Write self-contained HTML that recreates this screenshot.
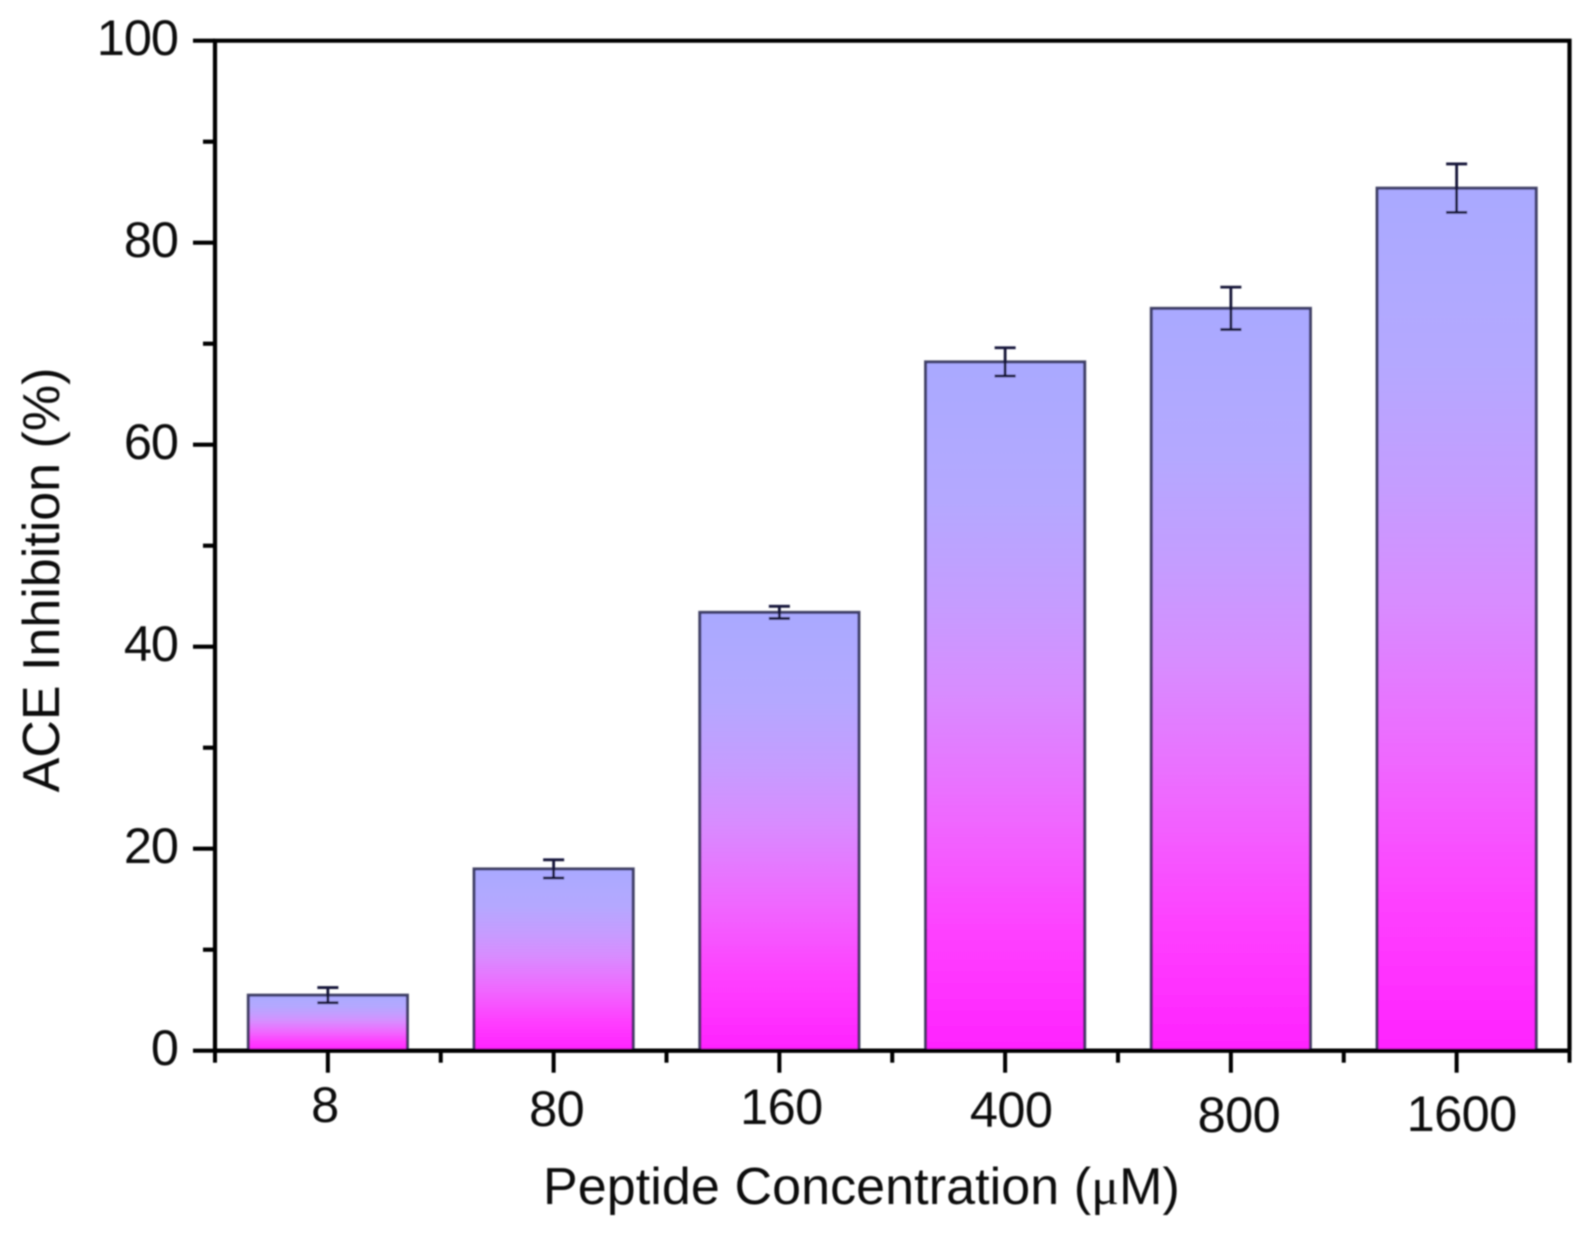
<!DOCTYPE html>
<html lang="en">
<head>
<meta charset="utf-8">
<title>ACE Inhibition Bar Chart</title>
<style>
html,body{margin:0;padding:0;background:#fff;}
svg{display:block;}
text{font-family:"Liberation Sans",sans-serif;fill:#111;}
</style>
</head>
<body>
<svg id="chart" width="1586" height="1234" viewBox="0 0 1586 1234" xmlns="http://www.w3.org/2000/svg">
<defs>
<linearGradient id="barFill" x1="0" y1="0" x2="0" y2="1">
<stop offset="0" stop-color="#a9a9ff"/>
<stop offset="0.2" stop-color="#b4a8ff"/>
<stop offset="0.35" stop-color="#c59cff"/>
<stop offset="0.48" stop-color="#d88cff"/>
<stop offset="0.67" stop-color="#f066ff"/>
<stop offset="0.83" stop-color="#fe40ff"/>
<stop offset="1" stop-color="#ff22ff"/>
</linearGradient>
<filter id="soft" x="-5%" y="-5%" width="110%" height="110%"><feGaussianBlur stdDeviation="0.75"/></filter>
</defs>
<rect x="0" y="0" width="1586" height="1234" fill="#ffffff"/>
<g id="plot" filter="url(#soft)"></g>
</svg>
<script>
const categories = ["8", "80", "160", "400", "800", "1600"];
const inhibition = [5.5, 18.0, 43.4, 68.2, 73.5, 85.4];
const errors = [0.75, 0.9, 0.6, 1.4, 2.1, 2.4];
const yTickLabels = [0, 20, 40, 60, 80, 100];
const yMinorTicks = [10, 30, 50, 70, 90];

const SVG_NS = "http://www.w3.org/2000/svg";
const plot = document.getElementById("plot");
const left = 215, right = 1569.5, top_ = 40.7, bottom = 1050.7;
const yMax = 100;
const band = (right - left) / categories.length;
const BAR_RATIO = 0.705;
const CAP = 10.5;
const FONT = 52;
const TICK_FONT = 50.5;
const INK = "#000000";
// hand-set vertical drift of the category labels in the source figure
const labelDrift = i => [-3, 1, -1, 2, 7, 6][i];
const labelShift = i => [-3, 3, 2, 6, 8, 5][i];

function xCenter(i) { return left + band * (i + 0.5); }
function y(v) { return bottom - (v / yMax) * (bottom - top_); }
function make(tag, attrs, parent) {
  const n = document.createElementNS(SVG_NS, tag);
  for (const k in attrs) n.setAttribute(k, attrs[k]);
  parent.appendChild(n);
  return n;
}
function seg(x1, y1, x2, y2, w, color, parent) {
  return make("line", { x1, y1, x2, y2, "stroke-width": w, stroke: color }, parent);
}

// bars and error bars
categories.forEach((cat, i) => {
  const w = band * BAR_RATIO;
  const bar = make("rect", {
    x: xCenter(i) - w / 2, y: y(inhibition[i]), width: w, height: bottom - y(inhibition[i]),
    fill: "url(#barFill)", stroke: "#26264e", "stroke-opacity": "0.85", "stroke-width": 3
  }, plot);
  
  

  const g = make("g", {}, plot);
  
  
  const hi = y(inhibition[i] + errors[i]), lo = y(inhibition[i] - errors[i]);
  seg(xCenter(i), hi, xCenter(i), lo, 2.8, "#16163a", g);
  seg(xCenter(i) - CAP, hi, xCenter(i) + CAP, hi, 2.8, "#16163a", g);
  seg(xCenter(i) - CAP, lo, xCenter(i) + CAP, lo, 2.8, "#16163a", g);
});

// frame
const frame = make("path", {
  d: `M${left} ${bottom}V${top_}H${right}V${bottom}`, fill: "none", stroke: INK, "stroke-width": 4.2
}, plot);


const xAxis = seg(left, bottom, right, bottom, 4.4, INK, plot);



// y axis
yTickLabels.forEach(v => {
  const t = seg(left - 22, y(v), left, y(v), 4.2, INK, plot);
  
  
  const l = make("text", {
    x: 178, y: y(v) + 14.5, "text-anchor": "end", "font-size": TICK_FONT, "letter-spacing": "-1"
  }, plot);
  l.textContent = v;
  
  
});
yMinorTicks.forEach(v => {
  const t = seg(left - 12, y(v), left, y(v), 4.2, INK, plot);
  
  
});

// x axis
categories.forEach((cat, i) => {
  const t = seg(xCenter(i), bottom, xCenter(i), bottom + 22, 4, INK, plot);
  
  
  const l = make("text", {
    x: xCenter(i) + labelShift(i), y: 1125 + labelDrift(i), "text-anchor": "middle",
    "font-size": TICK_FONT, "letter-spacing": "-0.6"
  }, plot);
  l.textContent = cat;
  
  
});
for (let i = 0; i <= categories.length; i++) {
  const x = left + band * i;
  const t = seg(x, bottom, x, bottom + 12, 4, INK, plot);
  
  
}

// titles
const xTitle = make("text", { x: 543, y: 1204, "font-size": FONT, "letter-spacing": "0.08" }, plot);


xTitle.appendChild(document.createTextNode("Peptide Concentration ("));
const mu = make("tspan", { style: 'font-family:"Liberation Serif",serif' }, xTitle);
mu.textContent = "\u03bc";
xTitle.appendChild(document.createTextNode("M)"));

const yTitle = make("text", {
  x: 0, y: 0, "text-anchor": "middle", "font-size": FONT, transform: "translate(59 580) rotate(-90)"
}, plot);
yTitle.textContent = "ACE Inhibition (%)";


</script>
</body>
</html>
